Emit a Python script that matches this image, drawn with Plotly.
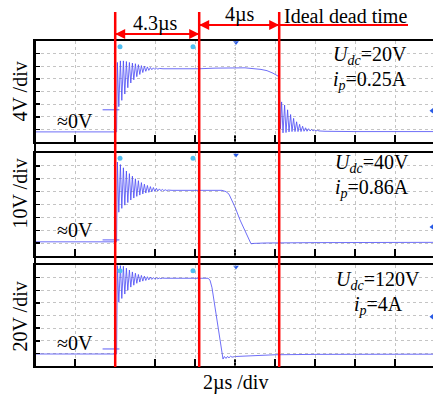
import plotly.graph_objects as go

# ---------------- data ----------------
# time in µs, voltage in V
wave_top = [
    (0.00, 0.0), (4.08, 0.0), (4.12, 22.0), (4.19, 8.0), (4.27, 22.5), (4.34, 10.0),
    (4.42, 22.5), (4.49, 12.0), (4.57, 22.3), (4.64, 14.0), (4.72, 22.0), (4.79, 15.5),
    (4.87, 21.8), (4.94, 16.5), (5.02, 21.6), (5.09, 17.5), (5.17, 21.3), (5.24, 18.2),
    (5.32, 21.0), (5.39, 18.8), (5.47, 20.8), (5.54, 19.2), (5.62, 20.6), (5.69, 19.5),
    (5.77, 20.4), (5.84, 19.7), (5.92, 20.3), (5.99, 19.8), (6.07, 20.2), (6.14, 19.9),
    (6.22, 20.1), (6.40, 20.0), (8.20, 20.0), (9.00, 20.2), (10.50, 20.3), (11.00, 20.1),
    (11.30, 19.8), (11.60, 19.4), (11.90, 18.6), (12.20, 17.5), (12.27, 1.0), (12.33, 9.5),
    (12.40, -0.3), (12.48, 8.5), (12.55, -0.2), (12.63, 7.0), (12.70, 0.0), (12.78, 5.5),
    (12.85, 0.1), (12.93, 4.3), (13.00, 0.1), (13.08, 3.2), (13.15, 0.1), (13.23, 2.4),
    (13.30, 0.1), (13.38, 1.8), (13.45, 0.2), (13.53, 1.3), (13.60, 0.2), (13.68, 1.0),
    (13.75, 0.3), (13.83, 0.8), (13.90, 0.3), (13.98, 0.6), (14.05, 0.3), (14.13, 0.5),
    (14.20, 0.3), (14.50, 0.2), (16.00, 0.1), (19.90, 0.1),
]
wave_mid = [
    (0.00, 0.0), (4.08, 0.0), (4.12, 62.0), (4.19, 23.0), (4.27, 60.0), (4.34, 26.0),
    (4.42, 57.5), (4.49, 28.5), (4.57, 55.0), (4.64, 30.5), (4.72, 53.0), (4.79, 32.5),
    (4.87, 51.0), (4.94, 34.0), (5.02, 49.0), (5.09, 35.3), (5.17, 47.5), (5.24, 36.3),
    (5.32, 46.0), (5.39, 37.2), (5.47, 44.8), (5.54, 37.9), (5.62, 43.8), (5.69, 38.4),
    (5.77, 42.9), (5.84, 38.9), (5.92, 42.2), (5.99, 39.2), (6.07, 41.6), (6.14, 39.5),
    (6.22, 41.1), (6.29, 39.7), (6.37, 40.7), (6.44, 39.8), (6.52, 40.4), (6.59, 39.9),
    (6.67, 40.2), (6.85, 40.0), (9.35, 40.0), (9.55, 39.0), (9.70, 37.0), (10.00, 27.0),
    (10.25, 17.0), (10.50, 8.0), (10.80, -1.5), (10.95, -1.2), (11.50, -0.9),
    (14.00, -0.6), (19.90, -0.4),
]
wave_bot = [
    (0.00, 0.0), (4.08, 0.0), (4.12, 140.0), (4.19, 82.0), (4.27, 140.0), (4.34, 88.0),
    (4.42, 139.0), (4.49, 95.0), (4.57, 136.0), (4.64, 101.0), (4.72, 133.0), (4.79, 106.0),
    (4.87, 130.0), (4.94, 109.0), (5.02, 128.0), (5.09, 112.0), (5.17, 126.0), (5.24, 114.0),
    (5.32, 124.5), (5.39, 115.5), (5.47, 123.3), (5.54, 116.5), (5.62, 122.4), (5.69, 117.5),
    (5.77, 121.7), (5.84, 118.2), (5.92, 121.1), (5.99, 118.7), (6.07, 120.7), (6.14, 119.1),
    (6.22, 120.4), (6.29, 119.4), (6.37, 120.2), (6.55, 120.0), (8.65, 120.0), (8.75, 117.0),
    (8.85, 105.0), (9.40, -8.0), (9.47, -4.0), (9.55, -7.0), (9.62, -4.0), (9.70, -6.0),
    (9.78, -3.5), (9.85, -5.0), (10.00, -4.0), (10.50, -3.0), (11.00, -2.2), (12.00, -1.2),
    (14.00, -0.6), (19.90, -0.3),
]

volts_per_div = [4, 10, 20]
zero_level_div = [0.8, 1.1, 0.95]          # where 0 V sits, in divisions from panel bottom
vdiv_labels = ["4V /div", "10V /div", "20V /div"]
udc_values = ["20V", "40V", "120V"]
ip_values = ["0.25A", "0.86A", "4A"]
time_per_div_label = "2µs /div"

cursor_times = [4.01, 8.21, 12.21]        # red cursor lines (µs)
interval_labels = ["4.3µs", "4µs"]
dead_time_label = "Ideal dead time"
dead_time_line_end = 18.65

scope_marker_t = [4.25, 7.9]               # cyan cursor icons
scope_marker_v = [27.0, 65.0, 132.0]
trigger_t = 10.05
trigger_v = [28.3, 67.5, 138.0]
ch_ground_t = 3.8
ch_ground_v = [7.0, 1.5, 8.0]
right_mark_t = 19.85
right_mark_v = [6.7, 11.6, 59.0]

# ---------------- layout geometry ----------------
W, H = 433, 398
PLOT_L, PLOT_T, PLOT_B = 35, 41, 366
PLOT_H = PLOT_B - PLOT_T
PLOT_W = W - PLOT_L
def py(ypx):
    return (PLOT_B - ypx) / PLOT_H

domains = [[py(142), 1.0], [py(256), py(153)], [0.0, py(265)]]
waves = [wave_top, wave_mid, wave_bot]

FONT = "Liberation Serif"
WAVE_COLOR = "rgba(75,75,245,0.9)"
RED = "rgb(255,0,0)"

fig = go.Figure()
layout = dict(
    width=W, height=H,
    margin=dict(l=PLOT_L, r=0, t=PLOT_T, b=H - PLOT_B, pad=0),
    paper_bgcolor="white", plot_bgcolor="white",
    showlegend=False,
    font=dict(family=FONT, size=20, color="black"),
)

for i in range(3):
    sfx = "" if i == 0 else str(i + 1)
    xa, ya = "x" + sfx, "y" + sfx
    w = waves[i]
    fig.add_trace(go.Scatter(
        x=[p[0] for p in w], y=[p[1] for p in w], mode="lines",
        line=dict(color=WAVE_COLOR, width=0.9), xaxis=xa, yaxis=ya,
        hoverinfo="skip"))
    fig.add_trace(go.Scatter(
        x=scope_marker_t, y=[scope_marker_v[i]] * len(scope_marker_t), mode="markers",
        marker=dict(symbol="circle", size=5, color="rgb(80,190,240)"),
        xaxis=xa, yaxis=ya, hoverinfo="skip"))
    fig.add_trace(go.Scatter(
        x=[trigger_t], y=[trigger_v[i]], mode="markers",
        marker=dict(symbol="triangle-down", size=5, color="rgb(40,90,230)"),
        xaxis=xa, yaxis=ya, hoverinfo="skip"))
    fig.add_trace(go.Scatter(
        x=[ch_ground_t], y=[ch_ground_v[i]], mode="markers",
        marker=dict(symbol="line-ew", size=12, line=dict(color=WAVE_COLOR, width=1)),
        xaxis=xa, yaxis=ya, hoverinfo="skip"))
    fig.add_trace(go.Scatter(
        x=[right_mark_t], y=[right_mark_v[i]], mode="markers",
        marker=dict(symbol="triangle-left", size=5, color="rgb(40,90,230)"),
        xaxis=xa, yaxis=ya, hoverinfo="skip"))

    vd = volts_per_div[i]
    lo = -zero_level_div[i] * vd
    layout["xaxis" + sfx] = dict(
        domain=[0, 1], anchor=ya, range=[0, 19.9], tick0=0, dtick=2,
        showticklabels=False, ticks="inside", ticklen=7, tickwidth=1.5, tickcolor="black",
        showline=True, linecolor="black", linewidth=2, mirror=True,
        showgrid=True, gridcolor="#c4c4c4", griddash="dot", gridwidth=1,
        zeroline=False, matches=None if i == 0 else "x", fixedrange=True)
    layout["yaxis" + sfx] = dict(
        domain=domains[i], anchor=xa, range=[lo, lo + 8 * vd], tick0=lo, dtick=vd,
        showticklabels=False, ticks="inside", ticklen=5, tickwidth=1.5, tickcolor="black",
        showline=True, linecolor="black", linewidth=2, mirror=False,
        showgrid=True, gridcolor="#c4c4c4", griddash="dot", gridwidth=1,
        zeroline=False, fixedrange=True)

fig.update_layout(**layout)

shapes = []
shapes.append(dict(type="line", xref="paper", yref="paper", x0=0, x1=0, y0=0, y1=1,
                   line=dict(color="black", width=2)))
for i in range(3):
    shapes.append(dict(type="line", xref="x", yref="paper", x0=10, x1=10,
                       y0=domains[i][0], y1=domains[i][1],
                       line=dict(color="#b0b0b0", width=1, dash="1px,2px")))
for t in cursor_times:
    shapes.append(dict(type="line", xref="x", yref="paper", x0=t, x1=t,
                       y0=py(367), y1=py(12), line=dict(color=RED, width=2.5)))
arrow_y = [py(34), py(25)]
for k in range(2):
    shapes.append(dict(type="line", xref="x", yref="paper",
                       x0=cursor_times[k], x1=cursor_times[k + 1], y0=arrow_y[k], y1=arrow_y[k],
                       line=dict(color=RED, width=2)))
shapes.append(dict(type="line", xref="x", yref="paper", x0=cursor_times[2],
                   x1=dead_time_line_end, y0=arrow_y[1], y1=arrow_y[1],
                   line=dict(color=RED, width=2)))

ann = []
for k in range(2):
    mid = (cursor_times[k] + cursor_times[k + 1]) / 2
    for end in (cursor_times[k], cursor_times[k + 1]):
        ann.append(dict(x=end, y=arrow_y[k], xref="x", yref="paper", ax=mid, ay=0,
                        axref="x", ayref="pixel", text="", showarrow=True,
                        arrowhead=2, arrowsize=1, arrowwidth=2, arrowcolor=RED,
                        standoff=0, startstandoff=0))
ann.append(dict(x=6.0, y=py(24), xref="x", yref="paper", text=interval_labels[0],
                showarrow=False, xanchor="center", yanchor="middle"))
ann.append(dict(x=10.25, y=py(14), xref="x", yref="paper", text=interval_labels[1],
                showarrow=False, xanchor="center", yanchor="middle"))
ann.append(dict(x=12.35, y=py(16), xref="x", yref="paper", text=dead_time_label,
                showarrow=False, xanchor="left", yanchor="middle"))

lab_y = [92, 194, 317]
zero_y = [121, 230, 343]
udc_pos = [(16.75, 56, 80), (16.85, 163, 188), (17.15, 280, 305)]
for i in range(3):
    ann.append(dict(x=(19.5 - PLOT_L) / PLOT_W, y=py(lab_y[i]), xref="paper", yref="paper",
                    text=vdiv_labels[i], textangle=-90, showarrow=False,
                    xanchor="center", yanchor="middle"))
    ann.append(dict(x=2.0, y=py(zero_y[i]), xref="x", yref="paper", text="≈0V",
                    showarrow=False, xanchor="center", yanchor="middle"))
    tx, y1, y2 = udc_pos[i]
    ann.append(dict(x=tx, y=py(y1), xref="x", yref="paper",
                    text="<i>U</i><sub><i>dc</i></sub>=" + udc_values[i],
                    showarrow=False, xanchor="center", yanchor="middle"))
    ann.append(dict(x=tx, y=py(y2), xref="x", yref="paper",
                    text="<i>i</i><sub><i>p</i></sub>=" + ip_values[i],
                    showarrow=False, xanchor="center", yanchor="middle"))
ann.append(dict(x=10.0, y=py(382), xref="x", yref="paper", text=time_per_div_label,
                showarrow=False, xanchor="center", yanchor="middle"))

fig.update_layout(shapes=shapes, annotations=ann)
# remove the default 8px page margin so the figure fills the window exactly
fig.write_html("out.html",
               config={"displayModeBar": False, "staticPlot": True},
               post_script="document.body.style.margin='0';document.body.style.overflow='hidden';")
